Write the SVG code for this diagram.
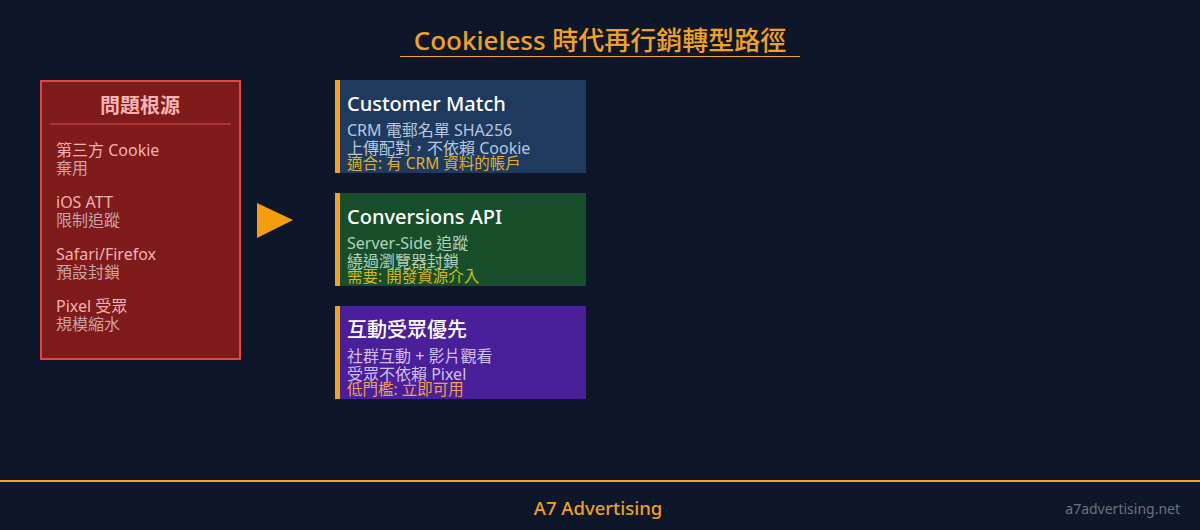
<svg xmlns="http://www.w3.org/2000/svg" width="1200" height="530" viewBox="0 0 1200 530">
<style>
text{font-family:"Noto Sans","Noto Sans CJK TC",sans-serif}
.ttl{font-size:26px;fill:#f2a21e;font-weight:500}
.li{font-size:16px}
.lt{fill:#f6b2b2}
.ls{fill:#c9a3a6}
.ct{font-size:20px;fill:#ffffff;font-weight:500}
.cl{font-size:16px}
.cn{font-size:15.5px}
.acc{fill:#f2a21e}
</style>
<rect width="1200" height="530" fill="#0e172a"/>
<g id="title">
<text class="ttl" x="600" y="50" text-anchor="middle">Cookieless 時代再行銷轉型路徑</text>
<line x1="400" y1="56.5" x2="800" y2="56.5" stroke="#f2a21e" stroke-width="1"/>
</g>
<g id="problem">
<rect x="41" y="81" width="199" height="278" fill="#7f1b1b" stroke="#e04848" stroke-width="2"/>
<text x="140" y="113" text-anchor="middle" font-size="20" font-weight="bold" fill="#f8b4b4">問題根源</text>
<line x1="50" y1="124" x2="231" y2="124" stroke="#e04848" stroke-width="1"/>
<text class="li"><tspan class="lt" x="56" y="156">第三方 Cookie</tspan><tspan class="ls" x="56" y="174">棄用</tspan></text>
<text class="li"><tspan class="lt" x="56" y="208">iOS ATT</tspan><tspan class="ls" x="56" y="226">限制追蹤</tspan></text>
<text class="li"><tspan class="lt" x="56" y="260">Safari/Firefox</tspan><tspan class="ls" x="56" y="278">預設封鎖</tspan></text>
<text class="li"><tspan class="lt" x="56" y="312">Pixel 受眾</tspan><tspan class="ls" x="56" y="330">規模縮水</tspan></text>
</g>
<g id="connectors">
<polygon points="257,203 293,220 257,238" fill="#f59e0b"/>
</g>
<g id="customer-match">
<rect x="335" y="80" width="251" height="93" fill="#1e3a5f"/>
<rect class="acc" x="335" y="80" width="5" height="93"/>
<text class="ct" x="347" y="111">Customer Match</text>
<text class="cl"><tspan x="347" y="136" fill="#b9c8dc">CRM 電郵名單 SHA256</tspan><tspan x="347" y="154" fill="#b9c8dc">上傳配對，不依賴 Cookie</tspan><tspan class="cn" x="347" y="169" fill="#e1b12c">適合: 有 CRM 資料的帳戶</tspan></text>
</g>
<g id="conversions-api">
<rect x="335" y="193" width="251" height="93" fill="#174f2b"/>
<rect class="acc" x="335" y="193" width="5" height="93"/>
<text class="ct" x="347" y="224">Conversions API</text>
<text class="cl"><tspan x="347" y="249" fill="#b6cfbb">Server-Side 追蹤</tspan><tspan x="347" y="267" fill="#b6cfbb">繞過瀏覽器封鎖</tspan><tspan class="cn" x="347" y="282" fill="#d8b820">需要: 開發資源介入</tspan></text>
</g>
<g id="engagement">
<rect x="335" y="306" width="251" height="93" fill="#4a1f9a"/>
<rect class="acc" x="335" y="306" width="5" height="93"/>
<text class="ct" x="347" y="337" font-weight="bold">互動受眾優先</text>
<text class="cl"><tspan x="347" y="362" fill="#cfc0ef">社群互動 + 影片觀看</tspan><tspan x="347" y="380" fill="#cfc0ef">受眾不依賴 Pixel</tspan><tspan class="cn" x="347" y="395" fill="#f0a050">低門檻: 立即可用</tspan></text>
</g>
<g id="footer">
<line x1="0" y1="481" x2="1200" y2="481" stroke="#f2a21e" stroke-width="2"/>
<text x="598" y="515" text-anchor="middle" font-size="18.5" font-weight="500" fill="#f2a21e">A7 Advertising</text>
<text x="1180" y="514" text-anchor="end" font-size="14" fill="#6b7280">a7advertising.net</text>
</g>
</svg>
